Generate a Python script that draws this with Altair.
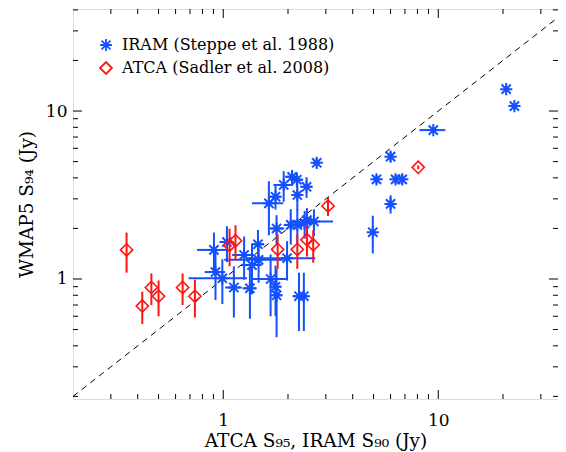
import altair as alt
import pandas as pd

# ---------------- data ----------------
iram_x = [0.905, 0.92, 0.99, 1.12, 1.04, 1.25, 1.36, 1.45, 1.46, 1.33,
          1.66, 1.75, 1.77, 1.98, 2.25, 2.37, 1.77, 2.06, 2.21, 2.39,
          2.45, 2.64, 1.63, 1.91, 2.09, 2.20, 2.44, 2.21, 1.75, 2.72,
          5.16, 6.33, 6.80, 6.00, 6.00, 4.96, 9.48, 20.7, 22.6]
iram_y = [1.49, 1.10, 1.01, 0.89, 1.66, 1.39, 1.21, 1.61, 1.30, 0.88,
          1.00, 0.90, 0.80, 1.33, 0.79, 0.79, 2.00, 2.10, 2.10, 2.14,
          2.24, 2.20, 2.82, 3.63, 4.06, 3.90, 3.54, 3.16, 3.09, 4.92,
          3.92, 3.92, 3.92, 5.35, 2.80, 1.90, 7.70, 13.5, 10.7]
iram_xerr = [0.15, 0.10, 0.30, 0.10, 0.08, 0.15, 0.15, 0.10, 0.45, 0.10,
             0.30, 0.10, 0.10, 0.70, 0.15, 0.10, 0.15, 0.15, 0.10, 0.10,
             0.10, 0.60, 0.27, 0.20, 0.15, 0.15, 0.15, 0.10, 0.10, 0.10,
             0.10, 0.10, 0.10, 0.10, 0.10, 0.10, 1.30, 0.50, 0.50]
iram_yerr = [0.40, 0.35, 0.30, 0.30, 0.40, 0.40, 0.40, 0.35, 0.35, 0.30,
             0.40, 0.30, 0.35, 0.35, 0.30, 0.30, 0.40, 0.50, 0.50, 0.40,
             0.40, 0.40, 1.00, 0.75, 0.40, 0.40, 0.50, 0.60, 0.50, 0.30,
             0.25, 0.25, 0.25, 0.35, 0.35, 0.48, 0.30, 0.50, 0.50]

atca_x = [0.355, 0.42, 0.463, 0.50, 0.647, 0.738, 1.07, 1.14, 1.79, 2.21,
          2.45, 2.62, 3.07, 8.07]
atca_y = [1.49, 0.69, 0.89, 0.79, 0.89, 0.79, 1.59, 1.69, 1.50, 1.50,
          1.71, 1.60, 2.72, 4.62]
atca_yerr = [0.40, 0.15, 0.19, 0.19, 0.19, 0.20, 0.40, 0.40, 0.35, 0.35,
             0.35, 0.35, 0.35, 0.12]

series_names = ["IRAM (Steppe et al. 1988)", "ATCA (Sadler et al. 2008)"]
x_major = [1, 10]
x_minor = [0.3, 0.4, 0.5, 0.6, 0.7, 0.8, 0.9, 2, 3, 4, 5, 6, 7, 8, 9, 20, 30]
y_major = [1, 10]
y_minor = [0.2, 0.3, 0.4, 0.5, 0.6, 0.7, 0.8, 0.9, 2, 3, 4, 5, 6, 7, 8, 9, 20, 30, 40]
diag = [0.2, 40]

# ---------------- styling ----------------
W, H = 485, 390
BLUE = "#1450ff"
RED = "#ff1414"
FONT = "DejaVu Serif"
STAR = "M0,-1L0,1M-1,0L1,0M-0.75,-0.75L0.75,0.75M-0.75,0.75L0.75,-0.75"

xs = alt.Scale(type="log", domain=[0.2, 36.05], nice=False)
ys = alt.Scale(type="log", domain=[0.193, 40.5], nice=False)

di = pd.DataFrame({"x": iram_x, "y": iram_y, "xe": iram_xerr, "ye": iram_yerr})
di["series"] = series_names[0]
di["xlo"] = (di.x - di.xe).clip(lower=0.05)
di["xhi"] = di.x + di.xe
di["ylo"] = (di.y - di.ye).clip(lower=0.05)
di["yhi"] = di.y + di.ye

da = pd.DataFrame({"x": atca_x, "y": atca_y, "ye": atca_yerr})
da["series"] = series_names[1]
da["ylo"] = (da.y - da.ye).clip(lower=0.05)
da["yhi"] = da.y + da.ye

legend_kw = dict(orient="none", legendX=25, legendY=28, title=None,
                 labelFont=FONT, labelFontSize=16, labelColor="black",
                 labelLimit=0, symbolSize=140, symbolStrokeWidth=1.8,
                 rowPadding=3, labelOffset=8, padding=0)
color_enc = alt.Color("series:N",
                      scale=alt.Scale(domain=series_names, range=[BLUE, RED]),
                      legend=alt.Legend(**legend_kw))
shape_enc = alt.Shape("series:N",
                      scale=alt.Scale(domain=series_names, range=[STAR, "diamond"]),
                      legend=alt.Legend(**legend_kw))

x_axis = alt.Axis(values=x_major, format="~g", ticks=False, domain=False, grid=False,
                  labelFont=FONT, labelFontSize=17, labelColor="black", labelPadding=13,
                  title="ATCA S₉₅, IRAM S₉₀ (Jy)", titleFont=FONT, titleFontSize=18.5,
                  titleFontWeight="normal", titleColor="black", titlePadding=3)
y_axis = alt.Axis(values=y_major, format="~g", ticks=False, domain=False, grid=False,
                  labelFont=FONT, labelFontSize=17, labelColor="black", labelPadding=6,
                  title="WMAP5 S₉₄ (Jy)", titleFont=FONT, titleFontSize=18.5,
                  titleFontWeight="normal", titleColor="black", titlePadding=9)

# diagonal y = x
line = alt.Chart(pd.DataFrame({"x": diag, "y": diag})).mark_line(
    color="black", strokeWidth=1, strokeDash=[6, 5], clip=True
).encode(x=alt.X("x:Q", scale=xs, axis=x_axis), y=alt.Y("y:Q", scale=ys, axis=y_axis))

# IRAM error bars
i_xbar = alt.Chart(di).mark_rule(color=BLUE, strokeWidth=2, clip=True).encode(
    x=alt.X("xlo:Q", scale=xs), x2="xhi:Q", y=alt.Y("y:Q", scale=ys))
i_ybar = alt.Chart(di).mark_rule(color=BLUE, strokeWidth=2, clip=True).encode(
    x=alt.X("x:Q", scale=xs), y=alt.Y("ylo:Q", scale=ys), y2="yhi:Q")
i_pts = alt.Chart(di).mark_point(filled=False, size=150, strokeWidth=2, opacity=1).encode(
    x=alt.X("x:Q", scale=xs), y=alt.Y("y:Q", scale=ys), color=color_enc, shape=shape_enc)

# ATCA error bars + points
a_ybar = alt.Chart(da).mark_rule(color=RED, strokeWidth=2, clip=True).encode(
    x=alt.X("x:Q", scale=xs), y=alt.Y("ylo:Q", scale=ys), y2="yhi:Q")
a_pts = alt.Chart(da).mark_point(filled=False, size=150, strokeWidth=1.6, opacity=1).encode(
    x=alt.X("x:Q", scale=xs), y=alt.Y("y:Q", scale=ys), color=color_enc, shape=shape_enc)

# inward ticks on all four sides
def xticks(vals, ln):
    d = pd.DataFrame({"v": vals})
    b = alt.Chart(d).mark_rule(color="black", strokeWidth=1).encode(
        x=alt.X("v:Q", scale=xs), y=alt.value(H), y2=alt.value(H - ln))
    t = alt.Chart(d).mark_rule(color="black", strokeWidth=1).encode(
        x=alt.X("v:Q", scale=xs), y=alt.value(0), y2=alt.value(ln))
    return [b, t]

def yticks(vals, ln):
    d = pd.DataFrame({"v": vals})
    l = alt.Chart(d).mark_rule(color="black", strokeWidth=1).encode(
        y=alt.Y("v:Q", scale=ys), x=alt.value(0), x2=alt.value(ln))
    r = alt.Chart(d).mark_rule(color="black", strokeWidth=1).encode(
        y=alt.Y("v:Q", scale=ys), x=alt.value(W), x2=alt.value(W - ln))
    return [l, r]

tick_layers = xticks(x_major, 9) + xticks(x_minor, 5) + yticks(y_major, 9) + yticks(y_minor, 5)

chart = alt.layer(
    line, i_xbar, i_ybar, i_pts, a_ybar, a_pts, *tick_layers
).properties(
    width=W, height=H,
    autosize=alt.AutoSizeParams(type="none"),
    padding={"left": 65, "top": 1, "right": 0, "bottom": 52},
).configure_view(
    stroke="black", strokeWidth=1.2
).configure(background="white")

chart.save("out.html", embed_options={"renderer": "svg", "actions": False})
